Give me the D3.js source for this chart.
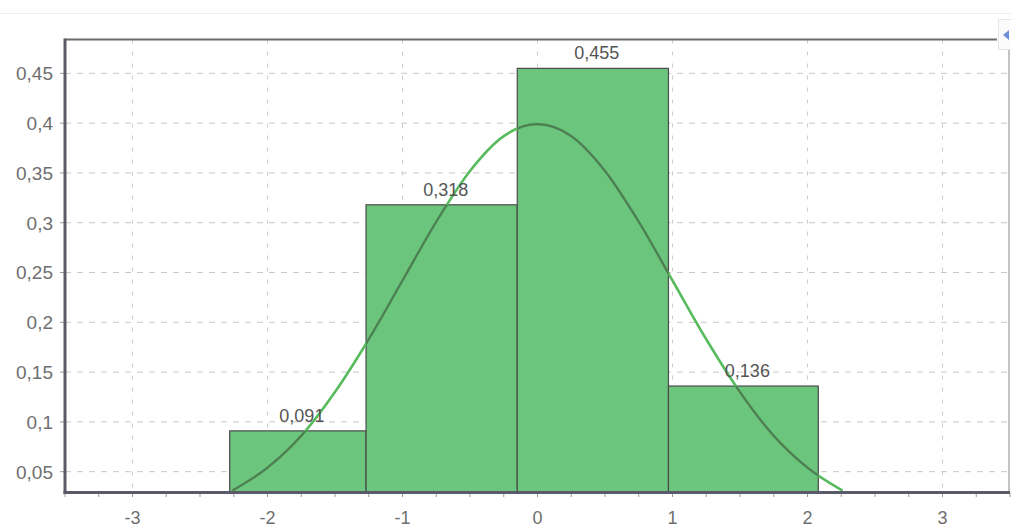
<!DOCTYPE html>
<html>
<head>
<meta charset="utf-8">
<script src="https://cdn.jsdelivr.net/npm/d3@7"></script>
<style>
  html, body { margin: 0; padding: 0; background: #ffffff; }
  svg { display: block; }
  text { font-family: "Liberation Sans", Arial, sans-serif; }
</style>
</head>
<body>
<svg id="chart" width="1011" height="529"></svg>
<script>
// ---- data ----
const binEdges = [-2.28, -1.27, -0.15, 0.97, 2.08];
const binValues = [0.091, 0.318, 0.455, 0.136];
const binLabels = ["0,091", "0,318", "0,455", "0,136"];
const curveX = [-2.26, -2.0, -1.75, -1.5, -1.25, -1.0, -0.75, -0.5, -0.25, 0.0, 0.25, 0.5, 0.75, 1.0, 1.25, 1.5, 1.75, 2.0, 2.26];
const curveY = [0.031, 0.054, 0.086, 0.130, 0.183, 0.242, 0.301, 0.352, 0.387, 0.399, 0.387, 0.352, 0.301, 0.242, 0.183, 0.130, 0.086, 0.054, 0.031];
const xTicks = [-3, -2, -1, 0, 1, 2, 3];
const xTickLabels = ["-3", "-2", "-1", "0", "1", "2", "3"];
const yTicks = [0.05, 0.1, 0.15, 0.2, 0.25, 0.3, 0.35, 0.4, 0.45];
const yTickLabels = ["0,05", "0,1", "0,15", "0,2", "0,25", "0,3", "0,35", "0,4", "0,45"];

// ---- layout ----
const svg = d3.select("#chart");
const L = 65, R = 1010, T = 39.5, B = 492.5;
const x = d3.scaleLinear().domain([-3.5, 3.5]).range([L, R]);
const y = d3.scaleLinear().domain([0.0291, 0.484]).range([B, T]);

svg.append("defs").append("clipPath").attr("id", "plotClip")
  .append("rect").attr("x", L).attr("y", T).attr("width", R - L).attr("height", B - T);

// faint scan line at top
svg.append("line").attr("x1", 0).attr("x2", 1011).attr("y1", 13.5).attr("y2", 13.5)
  .attr("stroke", "#eeeeee").attr("stroke-width", 1);

// grid
const grid = svg.append("g");
grid.selectAll("line.h").data(yTicks).enter().append("line")
  .attr("x1", L).attr("x2", R).attr("y1", d => y(d)).attr("y2", d => y(d))
  .attr("stroke", "#c8c8c8").attr("stroke-width", 1).attr("stroke-dasharray", "6,6");
grid.selectAll("line.v").data(xTicks).enter().append("line")
  .attr("x1", d => x(d)).attr("x2", d => x(d)).attr("y1", T).attr("y2", B)
  .attr("stroke", "#cccccc").attr("stroke-width", 1).attr("stroke-dasharray", "4,8");

// bars
const bins = binValues.map((v, i) => ({ x0: binEdges[i], x1: binEdges[i + 1], v, label: binLabels[i] }));
const barClip = svg.select("defs").append("clipPath").attr("id", "barClip");
barClip.selectAll("rect").data(bins).enter().append("rect")
  .attr("x", d => x(d.x0)).attr("width", d => x(d.x1) - x(d.x0))
  .attr("y", d => y(d.v)).attr("height", d => B - y(d.v));

svg.append("g").selectAll("rect").data(bins).enter().append("rect")
  .attr("x", d => x(d.x0)).attr("width", d => x(d.x1) - x(d.x0))
  .attr("y", d => y(d.v)).attr("height", d => B - y(d.v))
  .attr("fill", "#6cc57c").attr("stroke", "#4a4a4a").attr("stroke-width", 1.2);

// normal curve
const pts = curveX.map((v, i) => [v, curveY[i]]);
const line = d3.line().x(d => x(d[0])).y(d => y(d[1])).curve(d3.curveMonotoneX);
svg.append("path").datum(pts).attr("d", line)
  .attr("fill", "none").attr("stroke", "#58bb5e").attr("stroke-width", 2.6)
  .attr("clip-path", "url(#plotClip)");
svg.append("path").datum(pts).attr("d", line)
  .attr("fill", "none").attr("stroke", "#4f7e56").attr("stroke-width", 2.2)
  .attr("clip-path", "url(#barClip)");

// bar value labels
svg.append("g").selectAll("text").data(bins).enter().append("text")
  .attr("x", d => x((d.x0 + d.x1) / 2) + 4).attr("y", d => y(d.v) - 9)
  .attr("text-anchor", "middle").attr("font-size", 18).attr("fill", "#555555")
  .text(d => d.label);

// axes ticks
const minor = d3.range(-14, 15).map(i => i * 0.25);
svg.append("g").selectAll("line").data(minor).enter().append("line")
  .attr("x1", d => x(d)).attr("x2", d => x(d)).attr("y1", B).attr("y2", B + 4.5)
  .attr("stroke", "#999999").attr("stroke-width", 1);
svg.append("g").selectAll("line").data(yTicks).enter().append("line")
  .attr("x1", L - 5).attr("x2", L).attr("y1", d => y(d)).attr("y2", d => y(d))
  .attr("stroke", "#999999").attr("stroke-width", 1);

// tick labels
svg.append("g").selectAll("text").data(xTicks).enter().append("text")
  .attr("x", d => x(d)).attr("y", 524)
  .attr("text-anchor", "middle").attr("font-size", 18).attr("fill", "#6f6f6f")
  .text((d, i) => xTickLabels[i]);
svg.append("g").selectAll("text").data(yTicks).enter().append("text")
  .attr("x", 53).attr("y", d => y(d)).attr("dy", "0.36em")
  .attr("text-anchor", "end").attr("font-size", 19).attr("fill", "#6f6f6f")
  .text((d, i) => yTickLabels[i]);

// frame
svg.append("line").attr("x1", L).attr("x2", 997).attr("y1", T).attr("y2", T)
  .attr("stroke", "#6a6a6a").attr("stroke-width", 2);
svg.append("line").attr("x1", 1009).attr("x2", 1009).attr("y1", 50).attr("y2", B)
  .attr("stroke", "#b0b0b0").attr("stroke-width", 1.5);
svg.append("line").attr("x1", L).attr("x2", L).attr("y1", T - 1).attr("y2", B + 1.5)
  .attr("stroke", "#5a5a68").attr("stroke-width", 3);
svg.append("line").attr("x1", L - 1.5).attr("x2", R).attr("y1", B).attr("y2", B)
  .attr("stroke", "#5a5a68").attr("stroke-width", 3);

// small widget at top right
svg.append("rect").attr("x", 998.5).attr("y", 19.5).attr("width", 14).attr("height", 30)
  .attr("fill", "#fbfbfb").attr("stroke", "#e6e6e6");
svg.append("path").attr("d", "M1003,35 L1009,30 L1009,40 Z").attr("fill", "#6f90d8");
</script>
</body>
</html>
